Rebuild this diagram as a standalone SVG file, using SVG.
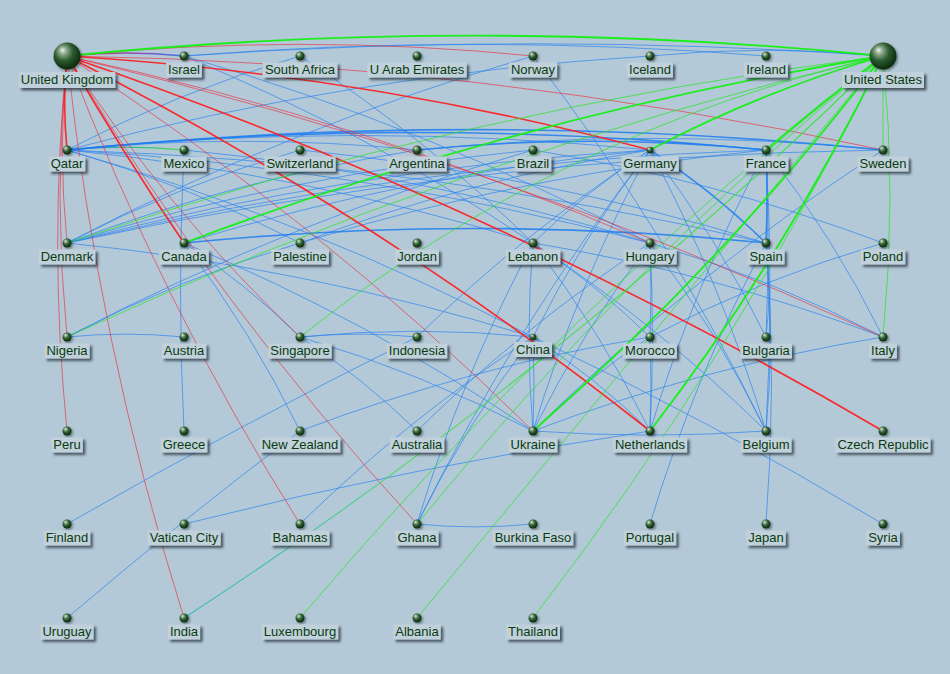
<svg xmlns="http://www.w3.org/2000/svg" width="950" height="674" viewBox="0 0 950 674">
<defs>
<style>
.bg{fill:#b4c9d7}
#edges path{fill:none;stroke-linecap:round}
.rk{stroke:#ff1a1a;stroke-width:1.6;stroke-opacity:.9}
.rt{stroke:#ee2233;stroke-width:1;stroke-opacity:.6}
.gk{stroke:#14f014;stroke-width:1.8;stroke-opacity:.95}
.gt{stroke:#22e622;stroke-width:1;stroke-opacity:.7}
.bl{stroke:#2e84ee;stroke-width:1;stroke-opacity:.7}
.bk{stroke:#1f7cf0;stroke-width:1.6;stroke-opacity:.85}
.s{fill:url(#sp);filter:url(#ns)}
.lb{fill:#c0d1dc;filter:url(#sh)}
text{font-family:"Liberation Sans",Arial,sans-serif;font-size:13px;fill:#0b3b0e;text-anchor:middle}
</style>
<radialGradient id="sp" cx="0.42" cy="0.38" r="0.62" fx="0.33" fy="0.28">
<stop offset="0" stop-color="#eef4ee"/>
<stop offset="0.22" stop-color="#8cab8c"/>
<stop offset="0.55" stop-color="#2d5c31"/>
<stop offset="1" stop-color="#0a2a0d"/>
</radialGradient>
<filter id="sh" x="-10%" y="-20%" width="130%" height="180%">
<feDropShadow dx="2.5" dy="2.5" stdDeviation="1.2" flood-color="#1c2c36" flood-opacity="0.7"/>
</filter>
<filter id="ns" x="-50%" y="-50%" width="200%" height="200%">
<feDropShadow dx="1.5" dy="1.5" stdDeviation="1" flood-color="#10201a" flood-opacity="0.5"/>
</filter>
<linearGradient id="gUkIl" gradientUnits="userSpaceOnUse" x1="67" y1="56" x2="184" y2="56">
<stop offset="0" stop-color="#e02a40"/><stop offset="0.5" stop-color="#9a4aa8"/><stop offset="1" stop-color="#3f76e8"/>
</linearGradient>
<linearGradient id="gQaMx" gradientUnits="userSpaceOnUse" x1="67" y1="150" x2="184" y2="150">
<stop offset="0" stop-color="#2e8ae8"/><stop offset="1" stop-color="#3ee03e"/>
</linearGradient>
<linearGradient id="gInUs" gradientUnits="userSpaceOnUse" x1="184" y1="618" x2="883" y2="56">
<stop offset="0" stop-color="#1eb4b0"/><stop offset="0.18" stop-color="#2cc88a"/><stop offset="0.3" stop-color="#2ee23a"/><stop offset="1" stop-color="#22e622"/>
</linearGradient>
</defs>
<rect class="bg" x="0" y="0" width="950" height="674"/>

<g id="edges">
<!-- blue -->
<path class="bl" stroke-width="1.3" d="M184,56 Q533.5,31.5 883,56"/>
<path class="bl" d="M184,56 Q475,32.7 766,56"/>
<path class="bl" d="M184,56 Q426.4,126.2 650,243"/>
<path class="bl" d="M184,56 Q367.9,132 533,243"/>
<path class="bl" d="M67,150 Q178.8,91.4 300,56"/>
<path class="bl" d="M300,56 Q426,137.9 533,243"/>
<path class="bl" d="M67,243 Q290.7,126.2 533,56"/>
<path class="bl" d="M67,150 Q353.8,73.9 650,56"/>
<path class="bl" d="M650,56 Q766.5,44.4 883,56"/>
<path class="bl" d="M533,56 Q668.3,231.9 766,431"/>
<path d="M67,150 Q125.5,144.2 184,150" stroke="url(#gQaMx)" stroke-width="1.2"/>
<path class="bl" d="M67,150 Q242,132.5 417,150"/>
<path class="bl" d="M67,150 Q358.5,120.9 650,150"/>
<path class="bk" d="M67,150 Q416.5,115 766,150"/>
<path class="bk" d="M67,150 Q475,109.2 883,150"/>
<path class="bl" d="M67,150 Q421.2,161.6 766,243"/>
<path class="bl" d="M67,150 Q363.2,167.4 650,243"/>
<path class="bl" d="M67,150 Q304.7,173.2 533,243"/>
<path class="bl" d="M67,150 Q188.2,184.9 300,243"/>
<path class="bl" d="M67,150 Q309.4,220.2 533,337"/>
<path class="bl" d="M184,150 Q177,290.5 184,431"/>
<path class="bl" d="M184,150 Q421.7,173.2 650,243"/>
<path class="bl" d="M300,150 Q537.7,173.2 766,243"/>
<path class="bl" d="M67,243 Q178.9,184.9 300,150"/>
<path class="bk" d="M417,150 Q591.5,132.6 766,150"/>
<path class="bl" d="M417,150 Q650,126.7 883,150"/>
<path class="bl" d="M67,243 Q237.4,179 417,150"/>
<path class="bl" d="M67,243 Q295.4,173.2 533,150"/>
<path class="bl" d="M67,337 Q290.7,220.2 533,150"/>
<path class="bl" d="M533,150 Q712.7,179 883,243"/>
<path class="bk" d="M650,150 Q712.7,190.7 766,243"/>
<path class="bl" d="M650,150 Q722,284.7 766,431"/>
<path class="bl" d="M533,337 Q582.2,237.7 650,150"/>
<path class="bl" d="M533,431 Q577.5,284.7 650,150"/>
<path class="bl" d="M533,243 Q586.9,190.7 650,150"/>
<path class="bl" d="M417,524 Q514.8,325.4 650,150"/>
<path class="bl" d="M650,150 Q717.4,237.7 766,337"/>
<path class="bl" d="M67,243 Q353.9,167.4 650,150"/>
<path class="bl" d="M184,243 Q412.4,173.2 650,150"/>
<path class="bl" d="M417,337 Q524.2,231.9 650,150"/>
<path class="bl" d="M300,243 Q470.4,179 650,150"/>
<path class="bk" d="M766,150 Q768,196.5 766,243"/>
<path class="bl" d="M766,150 Q770,243.5 766,337"/>
<path class="bl" d="M766,150 Q774,290.5 766,431"/>
<path class="bl" d="M766,150 Q833.9,237.7 883,337"/>
<path class="bl" d="M650,431 Q694,284.7 766,150"/>
<path class="bl" d="M67,243 Q411.9,161.6 766,150"/>
<path class="bl" d="M300,243 Q528.4,173.2 766,150"/>
<path class="bl" d="M67,243 Q470.4,155.7 883,150"/>
<path class="bl" d="M533,431 Q694,273 883,150"/>
<path class="bl" d="M67,243 Q304.7,266.7 533,337"/>
<path class="bk" stroke-width="1.4" d="M184,243 Q475,213.9 766,243"/>
<path class="bl" stroke-width="1.3" d="M184,243 Q246.7,284.2 300,337"/>
<path class="bl" d="M184,243 Q251.4,331.2 300,431"/>
<path class="bl" d="M184,243 Q367.9,319.6 533,431"/>
<path class="bl" d="M67,337 Q178.8,278.4 300,243"/>
<path class="bl" d="M533,243 Q525,337 533,431"/>
<path class="bl" d="M533,243 Q600.9,331.2 650,431"/>
<path class="bl" d="M533,243 Q596.2,284.2 650,337"/>
<path class="bl" d="M533,243 Q658.9,325.4 766,431"/>
<path class="bl" d="M533,243 Q712.7,272.5 883,337"/>
<path class="bl" d="M417,524 Q461,377.7 533,243"/>
<path class="bl" d="M650,243 Q652,290 650,337"/>
<path class="bl" d="M650,243 Q655,337 650,431"/>
<path class="bl" d="M650,243 Q771.2,278.4 883,337"/>
<path class="bl" d="M650,243 Q717.4,331.2 766,431"/>
<path class="bl" d="M533,431 Q582.1,331.2 650,243"/>
<path class="bl" d="M417,431 Q524.1,325.4 650,243"/>
<path class="bl" d="M766,243 Q772,290 766,337"/>
<path class="bl" d="M766,243 Q775,337 766,431"/>
<path class="bl" d="M766,243 Q777,383.5 766,524"/>
<path class="bl" d="M650,524 Q694,377.7 766,243"/>
<path class="bl" d="M650,337 Q761.8,278.4 883,243"/>
<path class="bl" d="M67,337 Q125.5,331.2 184,337"/>
<path class="bl" d="M300,337 Q358.5,331.2 417,337"/>
<path class="bl" d="M300,337 Q416.5,325.4 533,337"/>
<path class="bl" d="M300,337 Q363.2,378.2 417,431"/>
<path class="bl" d="M300,337 Q421.2,372.4 533,431"/>
<path class="bl" d="M67,524 Q239.2,425.3 417,337"/>
<path class="bl" d="M533,337 Q535,384 533,431"/>
<path class="bl" d="M533,337 Q712.7,421.8 883,524"/>
<path class="bl" d="M533,337 Q596.2,378.2 650,431"/>
<path class="bl" d="M300,524 Q407.2,418.9 533,337"/>
<path class="bl" d="M417,524 Q465.7,424.7 533,337"/>
<path class="bl" d="M533,431 Q586.8,378.2 650,337"/>
<path class="bl" d="M650,337 Q652,384 650,431"/>
<path class="bl" d="M533,431 Q703.3,366.5 883,337"/>
<path class="bl" d="M533,431 Q649.5,439.2 766,431"/>
<path class="bl" d="M184,524 Q414.7,465.9 650,431"/>
<path class="bl" d="M417,524 Q475,529.8 533,524"/>
<path class="bl" d="M67,618 Q180.7,521 300,431"/>
<path class="bl" d="M300,431 Q470.3,366.5 650,337"/>
<!-- red -->
<path d="M67,56 Q125.5,50.2 184,56" stroke="url(#gUkIl)" stroke-width="1.5"/>
<path class="rt" d="M67,56 Q300,32.7 533,56"/>
<path class="rt" d="M67,56 Q479.7,62.2 883,150"/>
<path class="rk" d="M67,56 Q363.2,73.9 650,150"/>
<path class="rt" d="M67,56 Q367.9,120.4 650,243"/>
<path class="rt" d="M67,56 Q489,155.7 883,337"/>
<path class="rk" d="M67,56 Q493.8,202.7 883,431"/>
<path class="rk" d="M67,56 Q377.3,214.4 650,431"/>
<path class="rt" d="M67,56 Q318.8,220.2 533,431"/>
<path class="rk" d="M67,56 Q121.8,151.8 184,243"/>
<path class="rt" d="M67,56 Q166.6,210.5 300,337"/>
<path class="rt" d="M67,56 Q160.1,301.7 300,524"/>
<path class="rt" d="M67,56 Q218.6,307.5 417,524"/>
<path class="rt" d="M67,56 Q97.4,342.9 184,618"/>
<path class="rk" d="M67,56 Q62.3,103 67,150"/>
<path class="rt" d="M67,56 Q57.7,149.5 67,243"/>
<path class="rt" d="M67,56 Q53,196.5 67,337"/>
<path class="rt" d="M67,56 Q48.3,243.5 67,431"/>
<!-- green -->
<path class="gk" stroke-width="2.2" d="M67,56 Q475,15.2 883,56"/>
<path class="gk" d="M766,150 Q823.1,101.2 883,56"/>
<path class="gk" d="M650,150 Q761.8,91.4 883,56"/>
<path class="gt" d="M883,150 Q883,103 883,56"/>
<path class="gt" d="M883,56 Q897,196.5 883,337"/>
<path class="gk" d="M184,243 Q524.2,114.6 883,56"/>
<path class="gt" d="M67,243 Q465.7,108.7 883,56"/>
<path class="gt" d="M67,337 Q461,155.7 883,56"/>
<path class="gt" d="M300,337 Q560,130 883,56"/>
<path class="gt" d="M417,524 Q626.6,266.7 883,56"/>
<path class="gt" d="M300,618 Q563.4,307.9 883,56"/>
<path class="gt" d="M417,618 Q650,337 883,56"/>
<path class="gt" d="M533,618 Q736.1,354.5 883,56"/>
<path class="gk" d="M533,431 Q726.8,261 883,56"/>
<path class="gk" d="M650,431 Q785.3,255.2 883,56"/>
<path d="M184,618 Q561.6,372 883,56" stroke="url(#gInUs)" stroke-width="1.1" stroke-opacity=".8"/>
</g>

<g id="n-united-kingdom"><circle class="s" cx="67" cy="56" r="13.5"/><rect class="lb" x="18.8" y="72" width="96.5" height="16"/><text x="67" y="84">United Kingdom</text></g>
<g id="n-israel"><circle class="s" cx="184" cy="56" r="4.5"/><rect class="lb" x="166.1" y="62.5" width="35.8" height="15"/><text x="184" y="74">Israel</text></g>
<g id="n-south-africa"><circle class="s" cx="300" cy="56" r="4.5"/><rect class="lb" x="262.6" y="62.5" width="74.8" height="15"/><text x="300" y="74">South Africa</text></g>
<g id="n-uae"><circle class="s" cx="417" cy="56" r="4.5"/><rect class="lb" x="367.3" y="62.5" width="99.4" height="15"/><text x="417" y="74">U Arab Emirates</text></g>
<g id="n-norway"><circle class="s" cx="533" cy="56" r="4.5"/><rect class="lb" x="509" y="62.5" width="48.1" height="15"/><text x="533" y="74">Norway</text></g>
<g id="n-iceland"><circle class="s" cx="650" cy="56" r="4.5"/><rect class="lb" x="627" y="62.5" width="45.9" height="15"/><text x="650" y="74">Iceland</text></g>
<g id="n-ireland"><circle class="s" cx="766" cy="56" r="4.5"/><rect class="lb" x="744.2" y="62.5" width="43.7" height="15"/><text x="766" y="74">Ireland</text></g>
<g id="n-united-states"><circle class="s" cx="883" cy="56" r="13.5"/><rect class="lb" x="842" y="72" width="82" height="16"/><text x="883" y="84">United States</text></g>

<g id="n-qatar"><circle class="s" cx="67" cy="150" r="4.5"/><rect class="lb" x="48.8" y="156.5" width="36.5" height="15"/><text x="67" y="168">Qatar</text></g>
<g id="n-mexico"><circle class="s" cx="184" cy="150" r="4.5"/><rect class="lb" x="161.4" y="156.5" width="45.2" height="15"/><text x="184" y="168">Mexico</text></g>
<g id="n-switzerland"><circle class="s" cx="300" cy="150" r="4.5"/><rect class="lb" x="264.4" y="156.5" width="71.2" height="15"/><text x="300" y="168">Switzerland</text></g>
<g id="n-argentina"><circle class="s" cx="417" cy="150" r="4.5"/><rect class="lb" x="387.2" y="156.5" width="59.6" height="15"/><text x="417" y="168">Argentina</text></g>
<g id="n-brazil"><circle class="s" cx="533" cy="150" r="4.5"/><rect class="lb" x="514.8" y="156.5" width="36.5" height="15"/><text x="533" y="168">Brazil</text></g>
<g id="n-germany"><circle class="s" cx="650" cy="150" r="3.3"/><rect class="lb" x="621.3" y="156.5" width="57.5" height="15"/><text x="650" y="168">Germany</text></g>
<g id="n-france"><circle class="s" cx="766" cy="150" r="4.5"/><rect class="lb" x="743.8" y="156.5" width="44.5" height="15"/><text x="766" y="168">France</text></g>
<g id="n-sweden"><circle class="s" cx="883" cy="150" r="4.5"/><rect class="lb" x="857.5" y="156.5" width="51" height="15"/><text x="883" y="168">Sweden</text></g>

<g id="n-denmark"><circle class="s" cx="67" cy="243" r="4.5"/><rect class="lb" x="38.7" y="249.5" width="56.7" height="15"/><text x="67" y="261">Denmark</text></g>
<g id="n-canada"><circle class="s" cx="184" cy="243" r="4.5"/><rect class="lb" x="159.3" y="249.5" width="49.5" height="15"/><text x="184" y="261">Canada</text></g>
<g id="n-palestine"><circle class="s" cx="300" cy="243" r="4.5"/><rect class="lb" x="271.3" y="249.5" width="57.5" height="15"/><text x="300" y="261">Palestine</text></g>
<g id="n-jordan"><circle class="s" cx="417" cy="243" r="4.5"/><rect class="lb" x="395.2" y="249.5" width="43.7" height="15"/><text x="417" y="261">Jordan</text></g>
<g id="n-lebanon"><circle class="s" cx="533" cy="243" r="4.5"/><rect class="lb" x="505.7" y="249.5" width="54.6" height="15"/><text x="533" y="261">Lebanon</text></g>
<g id="n-hungary"><circle class="s" cx="650" cy="243" r="4.5"/><rect class="lb" x="623.5" y="249.5" width="53.1" height="15"/><text x="650" y="261">Hungary</text></g>
<g id="n-spain"><circle class="s" cx="766" cy="243" r="4.5"/><rect class="lb" x="747.4" y="249.5" width="37.2" height="15"/><text x="766" y="261">Spain</text></g>
<g id="n-poland"><circle class="s" cx="883" cy="243" r="4.5"/><rect class="lb" x="860.8" y="249.5" width="44.5" height="15"/><text x="883" y="261">Poland</text></g>

<g id="n-nigeria"><circle class="s" cx="67" cy="337" r="4.5"/><rect class="lb" x="44.4" y="343.5" width="45.2" height="15"/><text x="67" y="355">Nigeria</text></g>
<g id="n-austria"><circle class="s" cx="184" cy="337" r="4.5"/><rect class="lb" x="161.8" y="343.5" width="44.5" height="15"/><text x="184" y="355">Austria</text></g>
<g id="n-singapore"><circle class="s" cx="300" cy="337" r="4.5"/><rect class="lb" x="268.4" y="343.5" width="63.3" height="15"/><text x="300" y="355">Singapore</text></g>
<g id="n-indonesia"><circle class="s" cx="417" cy="337" r="4.5"/><rect class="lb" x="386.8" y="343.5" width="60.4" height="15"/><text x="417" y="355">Indonesia</text></g>
<g id="n-china"><circle class="s" cx="533" cy="337" r="3.3"/><rect class="lb" x="514" y="342" width="38" height="15"/><text x="533" y="353.5">China</text></g>
<g id="n-morocco"><circle class="s" cx="650" cy="337" r="4.5"/><rect class="lb" x="623.1" y="343.5" width="53.8" height="15"/><text x="650" y="355">Morocco</text></g>
<g id="n-bulgaria"><circle class="s" cx="766" cy="337" r="4.5"/><rect class="lb" x="740.2" y="343.5" width="51.7" height="15"/><text x="766" y="355">Bulgaria</text></g>
<g id="n-italy"><circle class="s" cx="883" cy="337" r="4.5"/><rect class="lb" x="869.1" y="343.5" width="27.8" height="15"/><text x="883" y="355">Italy</text></g>

<g id="n-peru"><circle class="s" cx="67" cy="431" r="4.5"/><rect class="lb" x="51.3" y="437.5" width="31.5" height="15"/><text x="67" y="449">Peru</text></g>
<g id="n-greece"><circle class="s" cx="184" cy="431" r="4.5"/><rect class="lb" x="160.7" y="437.5" width="46.6" height="15"/><text x="184" y="449">Greece</text></g>
<g id="n-new-zealand"><circle class="s" cx="300" cy="431" r="4.5"/><rect class="lb" x="259.7" y="437.5" width="80.6" height="15"/><text x="300" y="449">New Zealand</text></g>
<g id="n-australia"><circle class="s" cx="417" cy="431" r="4.5"/><rect class="lb" x="389.7" y="437.5" width="54.6" height="15"/><text x="417" y="449">Australia</text></g>
<g id="n-ukraine"><circle class="s" cx="533" cy="431" r="4.5"/><rect class="lb" x="508.6" y="437.5" width="48.8" height="15"/><text x="533" y="449">Ukraine</text></g>
<g id="n-netherlands"><circle class="s" cx="650" cy="431" r="4.5"/><rect class="lb" x="613" y="437.5" width="74.1" height="15"/><text x="650" y="449">Netherlands</text></g>
<g id="n-belgium"><circle class="s" cx="766" cy="431" r="4.5"/><rect class="lb" x="740.5" y="437.5" width="51" height="15"/><text x="766" y="449">Belgium</text></g>
<g id="n-czech-republic"><circle class="s" cx="883" cy="431" r="4.5"/><rect class="lb" x="835.5" y="437.5" width="95" height="15"/><text x="883" y="449">Czech Republic</text></g>

<g id="n-finland"><circle class="s" cx="67" cy="524" r="4.5"/><rect class="lb" x="43.7" y="530.5" width="46.6" height="15"/><text x="67" y="542">Finland</text></g>
<g id="n-vatican-city"><circle class="s" cx="184" cy="524" r="4.5"/><rect class="lb" x="147.3" y="530.5" width="73.4" height="15"/><text x="184" y="542">Vatican City</text></g>
<g id="n-bahamas"><circle class="s" cx="300" cy="524" r="4.5"/><rect class="lb" x="270.6" y="530.5" width="58.9" height="15"/><text x="300" y="542">Bahamas</text></g>
<g id="n-ghana"><circle class="s" cx="417" cy="524" r="4.5"/><rect class="lb" x="395.5" y="530.5" width="43" height="15"/><text x="417" y="542">Ghana</text></g>
<g id="n-burkina-faso"><circle class="s" cx="533" cy="524" r="4.5"/><rect class="lb" x="492.7" y="530.5" width="80.6" height="15"/><text x="533" y="542">Burkina Faso</text></g>
<g id="n-portugal"><circle class="s" cx="650" cy="524" r="4.5"/><rect class="lb" x="623.8" y="530.5" width="52.4" height="15"/><text x="650" y="542">Portugal</text></g>
<g id="n-japan"><circle class="s" cx="766" cy="524" r="4.5"/><rect class="lb" x="746.3" y="530.5" width="39.4" height="15"/><text x="766" y="542">Japan</text></g>
<g id="n-syria"><circle class="s" cx="883" cy="524" r="4.5"/><rect class="lb" x="866.2" y="530.5" width="33.6" height="15"/><text x="883" y="542">Syria</text></g>

<g id="n-uruguay"><circle class="s" cx="67" cy="618" r="4.5"/><rect class="lb" x="40.5" y="624.5" width="53.1" height="15"/><text x="67" y="636">Uruguay</text></g>
<g id="n-india"><circle class="s" cx="184" cy="618" r="4.5"/><rect class="lb" x="167.9" y="624.5" width="32.2" height="15"/><text x="184" y="636">India</text></g>
<g id="n-luxembourg"><circle class="s" cx="300" cy="618" r="4.5"/><rect class="lb" x="261.9" y="624.5" width="76.3" height="15"/><text x="300" y="636">Luxembourg</text></g>
<g id="n-albania"><circle class="s" cx="417" cy="618" r="4.5"/><rect class="lb" x="393.3" y="624.5" width="47.4" height="15"/><text x="417" y="636">Albania</text></g>
<g id="n-thailand"><circle class="s" cx="533" cy="618" r="4.5"/><rect class="lb" x="506.1" y="624.5" width="53.9" height="15"/><text x="533" y="636">Thailand</text></g>
</svg>
